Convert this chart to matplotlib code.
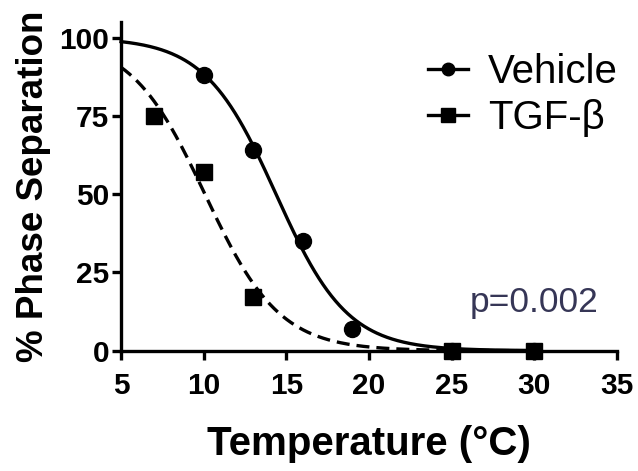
import numpy as np
import matplotlib
matplotlib.use("Agg")
import matplotlib.pyplot as plt
from matplotlib.lines import Line2D

plt.rcParams['font.family'] = ['Liberation Sans', 'DejaVu Sans']

# data
vehicle_temp = [10, 13, 16, 19, 25, 30]
vehicle_phase = [88, 64, 35, 7, 0, 0]
tgf_temp = [7, 10, 13, 25, 30]
tgf_phase = [75, 57, 17, 0, 0]
p_text = "p=0.002"


def sigmoid(x, x50, slope, top=100.0):
    return top / (1.0 + np.exp((x - x50) / slope))


def fit_sigmoid(x, y):
    """
    Brute force least squares fit of a Boltzmann sigmoid (0 to 100).
    """
    x50s = np.linspace(5, 20, 601)
    slopes = np.linspace(0.5, 5, 451)
    X, S = np.meshgrid(x50s, slopes, indexing='ij')
    err = np.zeros(X.shape)
    for xi, yi in zip(x, y):
        err += (sigmoid(xi, X, S) - yi) ** 2
    i = np.unravel_index(np.argmin(err), err.shape)
    return X[i], S[i]


fig = plt.figure(figsize=(6.38, 4.71), dpi=100)
ax = fig.add_axes([0.1897, 0.2554, 0.7774, 0.698])

xs = np.linspace(5, 30, 400)
lw = 2.4
veh_fit = fit_sigmoid(vehicle_temp, vehicle_phase)
tgf_fit = fit_sigmoid(tgf_temp, tgf_phase)
ax.plot(xs, sigmoid(xs, *veh_fit), color='black', lw=lw, clip_on=False)
ax.plot(xs, sigmoid(xs, *tgf_fit), color='black', lw=lw,
        linestyle=(0, (3.9, 2.1)), clip_on=False)

ax.plot(vehicle_temp, vehicle_phase, 'o', color='black', ms=11.5, clip_on=False, zorder=5)
ax.plot(tgf_temp, tgf_phase, 's', color='black', ms=12, clip_on=False, zorder=5)

ax.set_xlim(5, 35)
ax.set_ylim(0, 105)
ax.set_xticks([5, 10, 15, 20, 25, 30, 35])
ax.set_yticks([0, 25, 50, 75, 100])

for side in ['top', 'right']:
    ax.spines[side].set_visible(False)
for side in ['left', 'bottom']:
    ax.spines[side].set_linewidth(2.4)
ax.tick_params(width=2.4, length=6.5, labelsize=21.5)
ax.tick_params(axis='x', pad=9)
ax.tick_params(axis='y', pad=2)
for lab in ax.get_xticklabels() + ax.get_yticklabels():
    lab.set_fontweight('bold')

ax.set_xlabel('Temperature (°C)', fontsize=29, fontweight='bold', labelpad=18)
ax.set_ylabel('% Phase Separation', fontsize=26.5, fontweight='bold', labelpad=6)

ax.text(26.1, 12.4, p_text, fontsize=25.5, color='#363656')

handles = [
    Line2D([], [], color='black', lw=lw, marker='o', ms=9),
    Line2D([], [], color='black', lw=lw, marker='s', ms=9.5),
]
ax.legend(handles, ['Vehicle', 'TGF-β'], loc='upper left',
          bbox_to_anchor=(0.618, 0.905), frameon=False, fontsize=29,
          handlelength=1.0, handletextpad=0.5, labelspacing=0.2,
          borderaxespad=0.0, borderpad=0.0)

fig.savefig('out.png', dpi=100)
